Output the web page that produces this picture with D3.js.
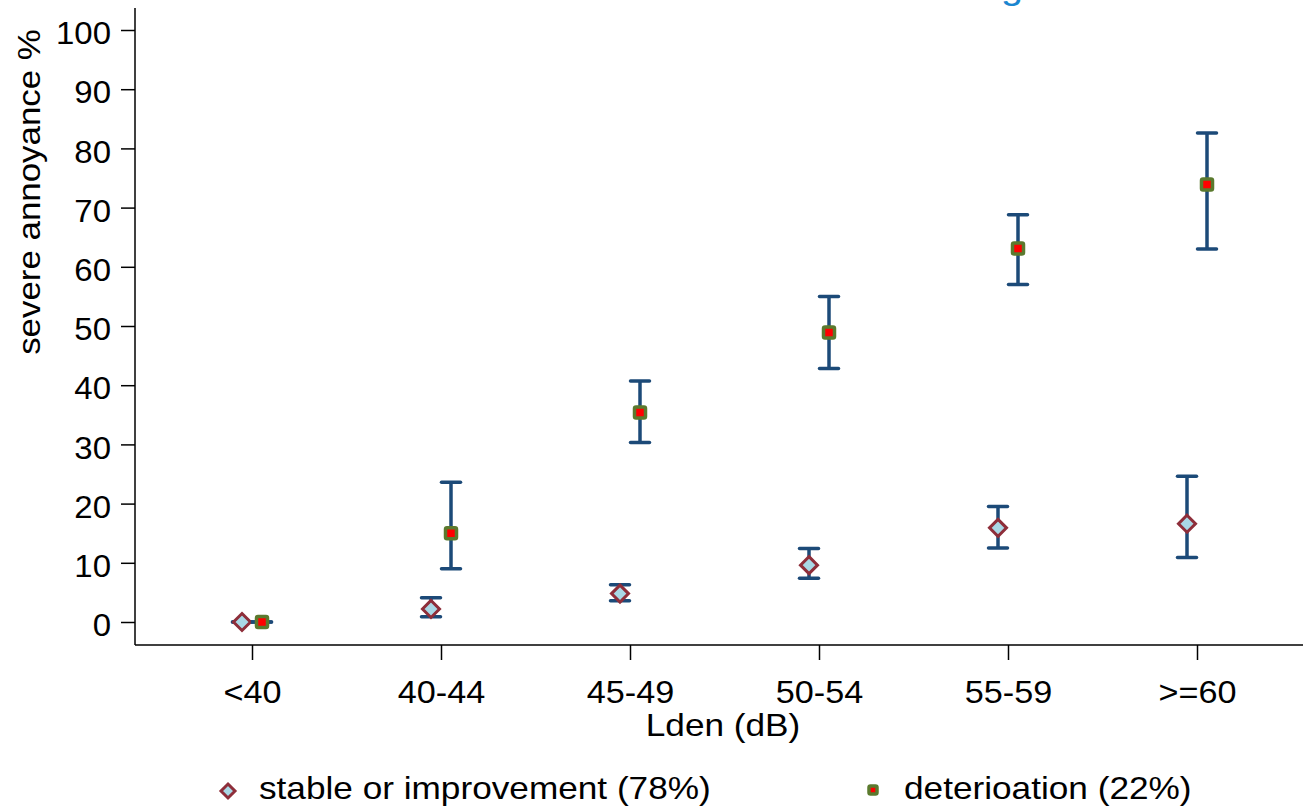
<!DOCTYPE html>
<html>
<head>
<meta charset="utf-8">
<script src="https://cdn.jsdelivr.net/npm/d3@7"></script>
<style>
  body { margin: 0; background: #fff; }
  svg text { font-family: "Liberation Sans", Arial, sans-serif; fill: #000; }
</style>
</head>
<body>
<div id="chart"></div>
<script>
// data
var categories = ['<40', '40-44', '45-49', '50-54', '55-59', '>=60'];
var yTicks = [0, 10, 20, 30, 40, 50, 60, 70, 80, 90, 100];

var stableMean = [0, 2.2, 4.8, 9.6, 15.9, 16.6];
var stableLow  = [0, 0.9, 3.6, 7.4, 12.5, 10.9];
var stableHigh = [0, 4.1, 6.3, 12.4, 19.5, 24.6];

var detMean = [0, 15.0, 35.4, 48.9, 63.1, 73.9];
var detLow  = [0, 9.0, 30.3, 42.8, 57.0, 63.0];
var detHigh = [0, 23.6, 40.7, 55.0, 68.8, 82.6];

var legendLabels = ['stable or improvement (78%)', 'deterioation (22%)'];

var width = 1303, height = 807;
var lineCol = '#1c4a78';
var fontSize = '32px';

var svg = d3.select('#chart').append('svg')
  .attr('width', width)
  .attr('height', height);

var y = d3.scaleLinear().domain([0, 100]).range([622, 30]);
var x = d3.scalePoint().domain(categories).range([252, 1197]);

// widen text horizontally (original font is a bit wider), keeping its anchor
function stretch(sel, k) {
  sel.each(function() {
    var t = d3.select(this);
    var tx = +t.attr('x') || 0, ty = +t.attr('y') || 0;
    var prev = t.attr('transform') || '';
    t.attr('x', 0).attr('y', 0)
      .attr('transform', prev + ' translate(' + tx + ',' + ty + ') scale(' + k + ',1)');
  });
}

// cropped title, only a descender shows
svg.append('text')
  .attr('x', 1001).attr('y', -1)
  .style('font-size', '36px')
  .style('fill', '#1a86d0')
  .text('g')
  .call(stretch, 1.1);

// y axis
var yAxis = svg.append('g')
  .attr('transform', 'translate(135,0)')
  .call(d3.axisLeft(y).tickValues(yTicks).tickSize(14).tickPadding(10));
yAxis.select('.domain').attr('d', 'M0,8V645');
yAxis.selectAll('line, path').attr('stroke', '#000').attr('stroke-width', 1.5);
yAxis.selectAll('text').style('font-size', fontSize).attr('dy', '0.43em').call(stretch, 1.03);

// x axis
var xAxis = svg.append('g')
  .attr('transform', 'translate(0,645)')
  .call(d3.axisBottom(x).tickSize(15).tickPadding(20));
xAxis.select('.domain').attr('d', 'M135,0H1303');
xAxis.selectAll('line, path').attr('stroke', '#000').attr('stroke-width', 1.5);
xAxis.selectAll('text').style('font-size', fontSize).call(stretch, 1.07);

svg.append('text')
  .attr('x', 723).attr('y', 736)
  .attr('text-anchor', 'middle')
  .style('font-size', fontSize)
  .text('Lden (dB)')
  .call(stretch, 1.1);

svg.append('text')
  .attr('transform', 'translate(40,192) rotate(-90)')
  .attr('text-anchor', 'middle')
  .style('font-size', fontSize)
  .text('severe annoyance %')
  .call(stretch, 1.09);

function drawSeries(mean, low, high, offset, kind) {
  var g = svg.append('g');
  var idx = d3.range(categories.length);
  var cap = 9.5;
  idx.forEach(function(i) {
    var cx = x(categories[i]) + offset;
    g.append('line')
      .attr('x1', cx).attr('x2', cx)
      .attr('y1', y(low[i])).attr('y2', y(high[i]))
      .attr('stroke', lineCol).attr('stroke-width', 3.5);
    [low[i], high[i]].forEach(function(v) {
      g.append('line')
        .attr('x1', cx - cap).attr('x2', cx + cap)
        .attr('y1', y(v)).attr('y2', y(v))
        .attr('stroke', lineCol).attr('stroke-width', 3.5)
        .attr('stroke-linecap', 'round');
    });
  });
  idx.forEach(function(i) {
    var cx = x(categories[i]) + offset, cy = y(mean[i]);
    if (kind === 'diamond') drawDiamond(g, cx, cy, 8.5);
    else drawSquare(g, cx, cy, 11);
  });
}

function drawDiamond(g, cx, cy, r) {
  g.append('path')
    .attr('d', 'M' + cx + ',' + (cy - r) + 'L' + (cx + r) + ',' + cy +
               'L' + cx + ',' + (cy + r) + 'L' + (cx - r) + ',' + cy + 'Z')
    .attr('fill', '#a9d8e6')
    .attr('stroke', '#8e2e3a')
    .attr('stroke-width', 3);
}

function drawSquare(g, cx, cy, s) {
  g.append('rect')
    .attr('x', cx - s / 2).attr('y', cy - s / 2)
    .attr('width', s).attr('height', s)
    .attr('rx', 1.5)
    .attr('fill', '#ff0000')
    .attr('stroke', '#5b7a2e')
    .attr('stroke-width', 3.5);
}

drawSeries(stableMean, stableLow, stableHigh, -10, 'diamond');
drawSeries(detMean, detLow, detHigh, 10, 'square');

// legend
var leg = svg.append('g');
drawDiamond(leg, 228, 791, 7);
leg.append('text')
  .attr('x', 259).attr('y', 799)
  .style('font-size', fontSize)
  .text(legendLabels[0])
  .call(stretch, 1.1);
drawSquare(leg, 873, 790, 8);
leg.append('text')
  .attr('x', 904).attr('y', 799)
  .style('font-size', fontSize)
  .text(legendLabels[1])
  .call(stretch, 1.1);
</script>
</body>
</html>
